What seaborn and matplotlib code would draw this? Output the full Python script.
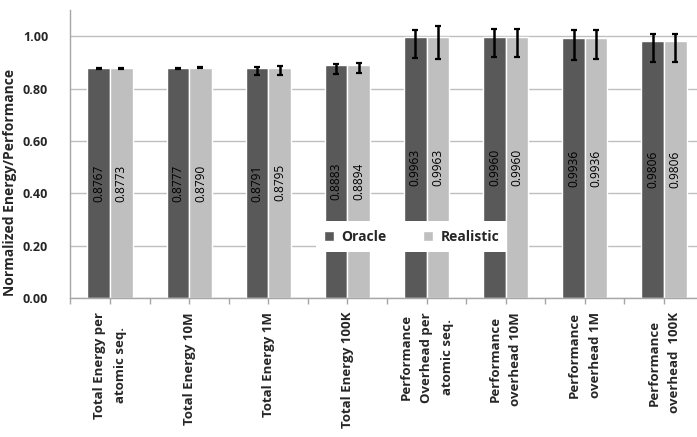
import matplotlib
matplotlib.use("Agg")
import matplotlib.pyplot as plt
from matplotlib.ticker import FixedLocator, MultipleLocator, FormatStrFormatter
import seaborn as sns
import pandas as pd

# Benchmark categories (x axis)
categories = [
    "Total Energy per\natomic seq.",
    "Total Energy 10M",
    "Total Energy 1M",
    "Total Energy 100K",
    "Performance\nOverhead per\natomic seq.",
    "Performance\noverhead 10M",
    "Performance\noverhead 1M",
    "Performance\noverhead  100K",
]
series = ["Oracle", "Realistic"]

# Normalized values per series
oracle = [0.8767, 0.8777, 0.8791, 0.8883, 0.9963, 0.9960, 0.9936, 0.9806]
realistic = [0.8773, 0.8790, 0.8795, 0.8894, 0.9963, 0.9960, 0.9936, 0.9806]

# Error bar extents below / above each bar
oracle_err_low = [0.003, 0.002, 0.028, 0.032, 0.080, 0.075, 0.083, 0.081]
oracle_err_high = [0.003, 0.002, 0.005, 0.004, 0.029, 0.030, 0.029, 0.029]
realistic_err_low = [0.003, 0.002, 0.028, 0.029, 0.083, 0.077, 0.082, 0.081]
realistic_err_high = [0.003, 0.002, 0.005, 0.007, 0.042, 0.030, 0.029, 0.029]

df = pd.DataFrame({
    "category": categories * 2,
    "series": [series[0]] * len(categories) + [series[1]] * len(categories),
    "value": oracle + realistic,
})
errors = {
    series[0]: [oracle_err_low, oracle_err_high],
    series[1]: [realistic_err_low, realistic_err_high],
}

sns.set_theme(style="white")
plt.rcParams["font.family"] = ["Open Sans", "DejaVu Sans"]

fig = plt.figure(figsize=(6.97, 4.37), dpi=100)
ax = fig.add_axes([70.4 / 697, (437 - 298) / 437, 633.2 / 697, 288 / 437])

palette = {"Oracle": "#595959", "Realistic": "#BFBFBF"}
sns.barplot(data=df, x="category", y="value", hue="series", order=categories,
            hue_order=series, palette=palette, width=0.57, gap=0,
            saturation=1, errorbar=None, ax=ax, zorder=2)

# error bars and centered value labels on each bar
for cont, name in zip(ax.containers, series):
    xs = [p.get_x() + p.get_width() / 2 for p in cont.patches]
    hs = [p.get_height() for p in cont.patches]
    ax.errorbar(xs, hs, yerr=errors[name], fmt="none", ecolor="black",
                elinewidth=1.8, capsize=2.2, capthick=1.6, zorder=4)
    ax.bar_label(cont, fmt="%.4f", label_type="center", rotation=90,
                 fontsize=8.6, color="black", zorder=5)

ax.set_xlim(-0.5, len(categories) - 0.5)
ax.set_ylim(0, 1.1)
ax.yaxis.set_major_locator(FixedLocator([0, 0.2, 0.4, 0.6, 0.8, 1.0]))
ax.yaxis.set_major_formatter(FormatStrFormatter("%.2f"))
ax.grid(axis="y", color="#BFBFBF", linewidth=1.0, zorder=0)
ax.set_axisbelow(True)

for s in ["top", "right"]:
    ax.spines[s].set_visible(False)
for s in ["left", "bottom"]:
    ax.spines[s].set_color("#A6A6A6")
    ax.spines[s].set_linewidth(1.0)

ax.xaxis.set_minor_locator(MultipleLocator(1, offset=0.5))
ax.tick_params(axis="x", which="both", bottom=True, length=4, width=1,
               color="#A6A6A6", pad=6)
ax.tick_params(axis="y", left=False, pad=10)

ax.set_xticks(range(len(categories)))
ax.set_xticklabels(categories, rotation=90, fontsize=9.5, fontweight="bold",
                   multialignment="center", linespacing=1.75)
for lbl in ax.get_yticklabels():
    lbl.set_fontsize(9)
    lbl.set_fontweight("bold")

ax.set_xlabel("")
ax.set_ylabel("Normalized Energy/Performance", fontsize=10,
              fontweight="bold", labelpad=6)
ax.yaxis.set_label_coords(-0.085, 0.40)

leg = ax.legend(loc="center", bbox_to_anchor=(0.539, 0.2135), ncol=2,
                frameon=True, fancybox=False, framealpha=1, edgecolor="white",
                handlelength=0.7, handleheight=0.7, columnspacing=2.6,
                handletextpad=0.55, borderpad=0.6, borderaxespad=0,
                prop={"weight": "bold", "size": 10})
leg.get_frame().set_linewidth(0)
leg.set_zorder(10)

fig.savefig("out.png", dpi=100)
